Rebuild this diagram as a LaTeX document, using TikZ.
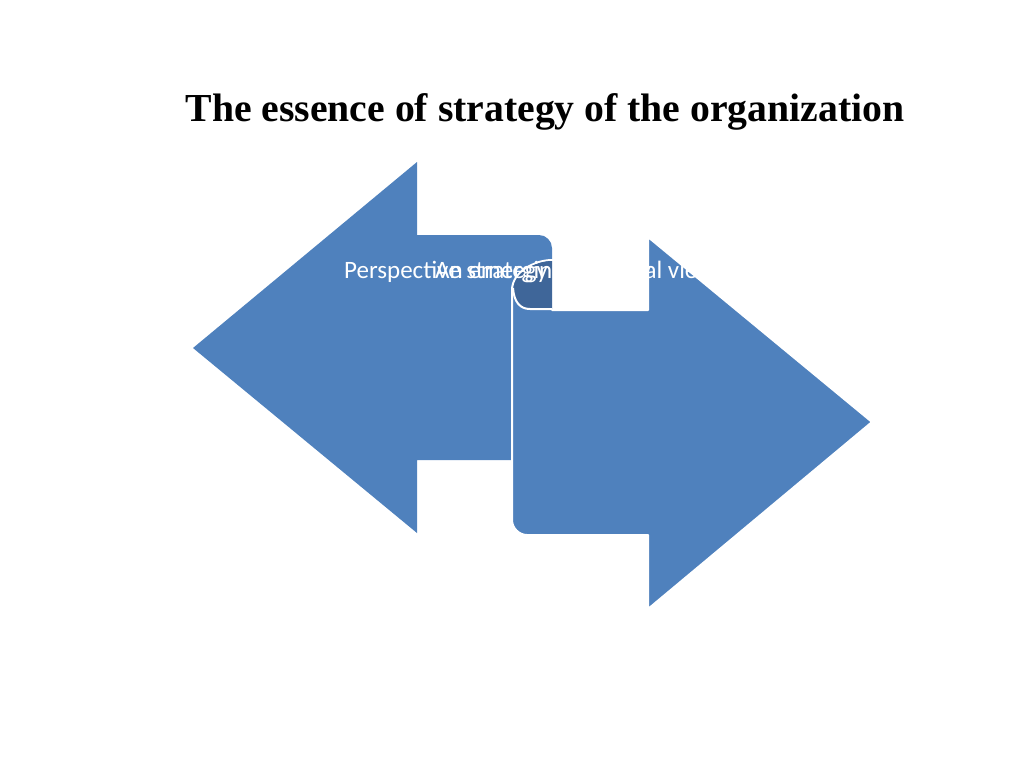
\documentclass[tikz,border=0pt]{standalone}
\usepackage{fontspec}
\setmainfont{Liberation Serif}
\newfontfamily\carlitofont{Carlito}
\definecolor{arrowblue}{HTML}{4F81BD}
\definecolor{curldark}{HTML}{3F6699}
\begin{document}
\begin{tikzpicture}[x=1pt,y=-1pt,
  arrowshape/.style={fill=arrowblue},
  arrowedge/.style={fill=arrowblue,draw=white,line width=2pt,line join=round},
  arrowtext/.style={inner sep=0pt,anchor=base west,text=white,font=\carlitofont\fontsize{25}{30}\selectfont},
  titletext/.style={inner sep=0pt,anchor=base,font=\bfseries\fontsize{39.7}{46}\selectfont}]
\useasboundingbox (0,0) rectangle (1024,768);
% left arrow
\fill[arrowshape] (193,348) -- (417,162) -- (417,235) -- (539,235)
  .. controls (546,235) and (552,241) .. (552,248) -- (552,447)
  .. controls (552,454) and (546,460) .. (539,460) -- (417,460) -- (417,533) -- cycle;
% right arrow
\path[arrowedge] (512,290) .. controls (512,272) and (535,260) .. (552,260) -- (552,310)
  -- (648,310) -- (648,237) -- (872,422) -- (648,609) -- (648,535) -- (527,535)
  .. controls (519,535) and (512,528) .. (512,520) -- cycle;
% curl
\fill[curldark] (552,261) .. controls (536,261) and (514,272) .. (513.5,289)
  .. controls (514,302) and (520,309) .. (530,309) -- (552,309) -- cycle;
\draw[white,line width=2pt] (513,288) .. controls (514,302) and (520,309) .. (530,309) -- (552,309);
% texts
\node[arrowtext] (t1) at (344,278) {Perspective strategy - a rational view};
\node[arrowtext] (t2) at (435,278) {An emerging strategy};
\node[titletext] (title) at (545,121) {The essence of strategy of the organization};
\end{tikzpicture}
\end{document}
